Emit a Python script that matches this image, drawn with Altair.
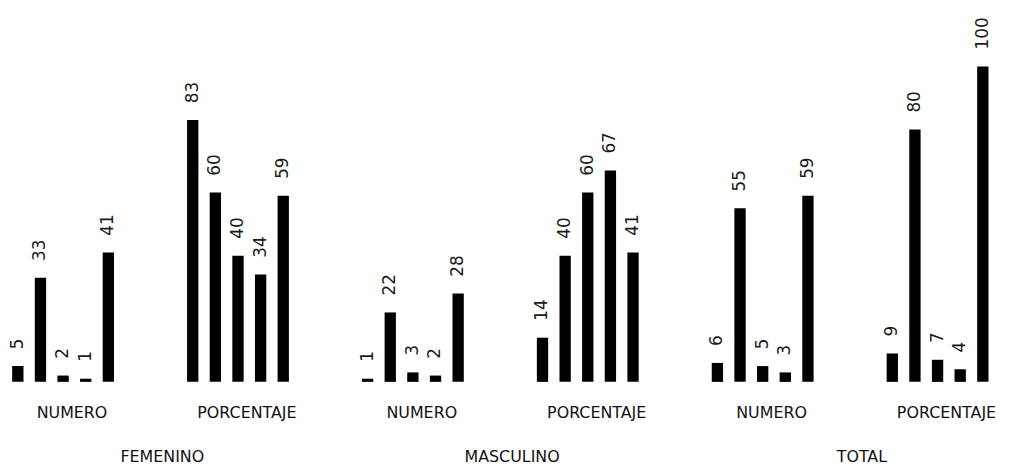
import altair as alt
import pandas as pd

groups = ["FEMENINO", "MASCULINO", "TOTAL"]
subgroups = ["NUMERO", "PORCENTAJE"]
items = ["1", "2", "3", "4", "5"]

femenino_numero = [5, 33, 2, 1, 41]
femenino_porcentaje = [83, 60, 40, 34, 59]
masculino_numero = [1, 22, 3, 2, 28]
masculino_porcentaje = [14, 40, 60, 67, 41]
total_numero = [6, 55, 5, 3, 59]
total_porcentaje = [9, 80, 7, 4, 100]

series = {
    ("FEMENINO", "NUMERO"): femenino_numero,
    ("FEMENINO", "PORCENTAJE"): femenino_porcentaje,
    ("MASCULINO", "NUMERO"): masculino_numero,
    ("MASCULINO", "PORCENTAJE"): masculino_porcentaje,
    ("TOTAL", "NUMERO"): total_numero,
    ("TOTAL", "PORCENTAJE"): total_porcentaje,
}

rows = []
for (g, s), vals in series.items():
    for it, v in zip(items, vals):
        rows.append({"grupo": g, "sub": s, "key": f"{g}|{s}", "item": it, "valor": v})
df = pd.DataFrame(rows)
keys = [f"{g}|{s}" for g in groups for s in subgroups]

grp_df = pd.DataFrame({"grupo": groups, "key": [f"{g}|NUMERO" for g in groups]})

FONT = "DejaVu Sans"

x_enc = alt.X(
    "key:N",
    sort=keys,
    scale=alt.Scale(domain=keys, range=[-1.5, 994], paddingInner=0.353, paddingOuter=0),
    axis=alt.Axis(
        title=None, domain=False, ticks=False, labelAngle=0,
        labelExpr="split(datum.label, '|')[1]",
        labelFont=FONT, labelFontSize=16, labelColor="#111111",
        labelPadding=23, labelOffset=9, labelBaseline="top",
    ),
)
xo_enc = alt.XOffset("item:N", sort=items,
                     scale=alt.Scale(paddingInner=0.5, paddingOuter=0.25))
y_enc = alt.Y("valor:Q", scale=alt.Scale(domain=[0, 100], nice=False),
              axis=None)

bars = alt.Chart(df).mark_bar(color="#000000").encode(
    x=x_enc, xOffset=xo_enc, y=y_enc
)

labels = alt.Chart(df).mark_text(
    angle=270, align="left", baseline="middle", dx=17,
    font=FONT, fontSize=17, color="#1a1a1a",
).encode(x=x_enc, xOffset=xo_enc, y=y_enc, text="valor:Q")

grp_labels = alt.Chart(grp_df).mark_text(
    align="center", baseline="middle", dx=100,
    font=FONT, fontSize=16, color="#111111",
).encode(
    x=alt.X("key:N", sort=keys),
    y=alt.value(394),
    text="grupo:N",
)

chart = alt.layer(bars, labels, grp_labels).properties(
    width=1004, height=318,
    background="white",
    autosize=alt.AutoSizeParams(type="none"),
    padding={"left": 0, "top": 57, "right": 8, "bottom": 88},
).configure_view(stroke=None, strokeWidth=0)

chart.save("out.html", embed_options={"renderer": "svg", "actions": False})
